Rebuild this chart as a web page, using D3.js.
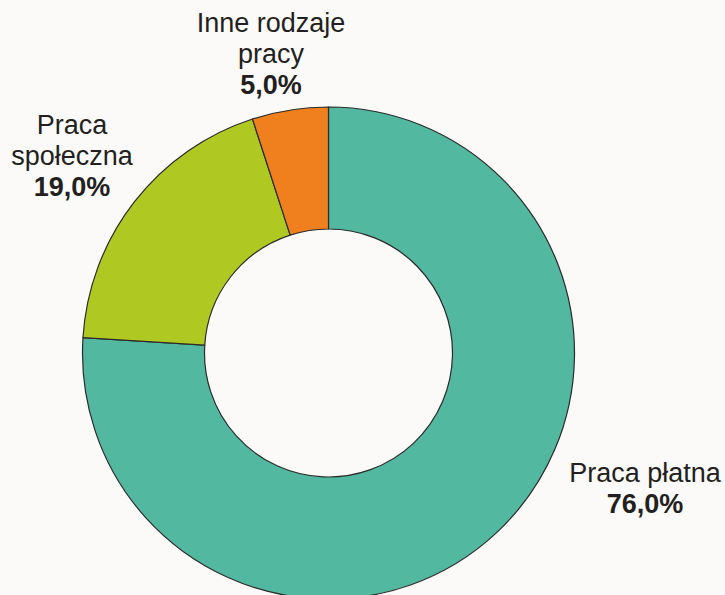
<!DOCTYPE html>
<html>
<head>
<meta charset="utf-8">
<script src="https://cdn.jsdelivr.net/npm/d3@7"></script>
<style>
  html, body { margin: 0; padding: 0; background: #fbfaf8; }
  svg { display: block; }
  text { font-family: "Liberation Sans", Arial, sans-serif; fill: #231f20; }
</style>
</head>
<body>
<svg id="chart"></svg>
<script>
const categories = ["Praca płatna", "Praca społeczna", "Inne rodzaje pracy"];
const values = [76.0, 19.0, 5.0];
const labelLines = [["Praca płatna"], ["Praca", "społeczna"], ["Inne rodzaje", "pracy"]];
const colors = ["#52b8a0", "#b0c922", "#f07f1e"];

// TODO: config
const width = 725;
const height = 595;
const cx = 328.5;
const cy = 353;
const outerR = 246;
const innerR = 124;
const fontSize = 27;
const lineH = 31;

// label centre (x) and first baseline (y) for each slice
const labelAnchor = [[645, 482], [72, 134], [271, 32]];

const svg = d3.select("#chart").attr("width", width).attr("height", height);

const pie = d3.pie().sort(null).value(d => d)(values);
const arc = d3.arc().innerRadius(innerR).outerRadius(outerR);

const g = svg.append("g").attr("transform", `translate(${cx},${cy})`);

g.selectAll("path")
    .data(pie)
    .enter().append("path")
    .attr("d", arc)
    .attr("fill", (d, i) => colors[i])
    .attr("stroke", "#2b2b2b")
    .attr("stroke-width", 1.2)
    .attr("stroke-linejoin", "round");

const fmt = v => v.toFixed(1).replace(".", ",") + "%";

const labels = svg.selectAll(".label")
    .data(categories)
    .enter().append("text")
    .attr("class", "label")
    .attr("text-anchor", "middle")
    .attr("font-size", fontSize)
    .attr("x", (d, i) => labelAnchor[i][0])
    .attr("y", (d, i) => labelAnchor[i][1]);

labels.each(function(d, i) {
    const t = d3.select(this);
    labelLines[i].forEach((line, j) => {
        t.append("tspan")
            .attr("x", labelAnchor[i][0])
            .attr("dy", j === 0 ? 0 : lineH)
            .text(line);
    });
    t.append("tspan")
        .attr("x", labelAnchor[i][0])
        .attr("dy", lineH)
        .attr("font-weight", "bold")
        .text(fmt(values[i]));
});
</script>
</body>
</html>
